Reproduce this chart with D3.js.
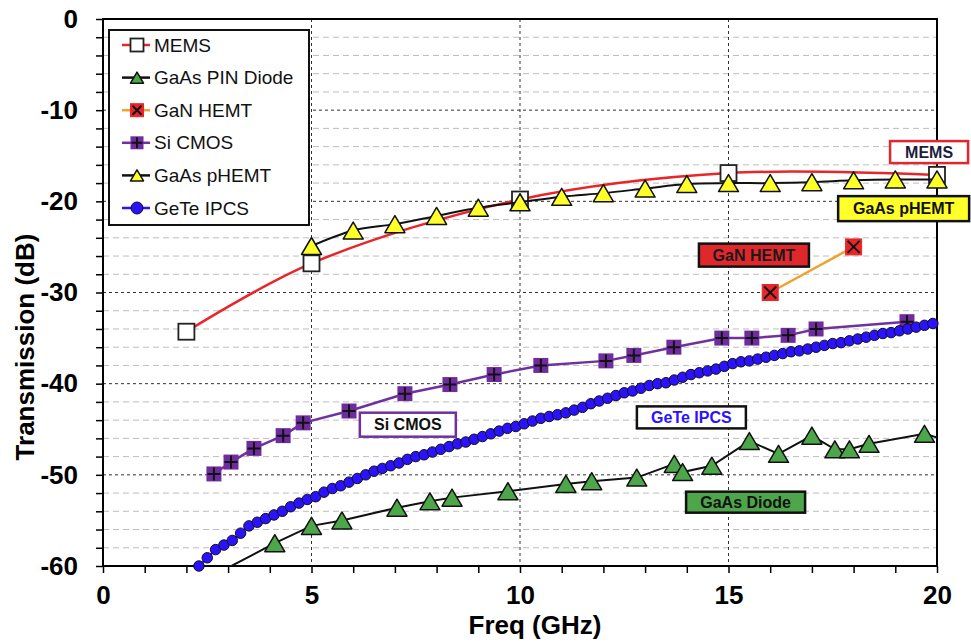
<!DOCTYPE html>
<html>
<head>
<meta charset="utf-8">
<script src="https://cdn.jsdelivr.net/npm/d3@7"></script>
<style>
  body { margin: 0; background: #fff; }
  svg { display: block; font-family: "Liberation Sans", Arial, sans-serif; }
</style>
</head>
<body>
<svg width="971" height="643"></svg>
<script>
// ---- data ----
var memsFreq = [2, 5, 10, 15, 20];
var memsDb = [-34.3, -26.8, -19.8, -16.9, -17.1];

var phemtFreq = [5, 6, 7, 8, 9, 10, 11, 12, 13, 14, 15, 16, 17, 18, 19, 20];
var phemtDb = [-24.9, -23.2, -22.5, -21.6, -20.7, -20.1, -19.5, -19.1, -18.6, -18.1, -18.0, -18.0, -17.9, -17.7, -17.6, -17.6];

var ganFreq = [16, 18];
var ganDb = [-30.0, -25.0];

var siFreq = [2.66, 3.07, 3.62, 4.32, 4.80, 5.90, 7.24, 8.32, 9.38, 10.5, 12.06, 12.73, 13.69, 14.84, 15.56, 16.43, 17.1, 19.28];
var siDb = [-49.9, -48.6, -47.1, -45.7, -44.3, -43.0, -41.1, -40.1, -39.0, -38.0, -37.5, -36.9, -36.0, -35.0, -35.0, -34.7, -34.0, -33.2];

// first and last points fall outside the axes (line enters/leaves the frame)
var pinFreq = [2.7, 4.12, 5.0, 5.73, 7.05, 7.84, 8.37, 9.71, 11.1, 11.72, 12.8, 13.7, 13.9, 14.6, 15.5, 16.2, 17.0, 17.55, 17.9, 18.37, 19.7, 20.3];
var pinDb = [-60.9, -57.5, -55.6, -55.0, -53.6, -52.9, -52.5, -51.8, -51.0, -50.7, -50.3, -48.8, -49.7, -49.0, -46.3, -47.7, -45.7, -47.2, -47.2, -46.6, -45.5, -46.3];

var geteFreq = [2.3, 2.5, 2.7, 2.9, 3.1, 3.3, 3.5, 3.7, 3.9, 4.1, 4.3, 4.5, 4.7, 4.9, 5.1, 5.3, 5.5, 5.7, 5.9,
  6.1, 6.3, 6.5, 6.7, 6.9, 7.1, 7.3, 7.5, 7.7, 7.9, 8.1, 8.3, 8.5, 8.7, 8.9, 9.1, 9.3, 9.5, 9.7, 9.9,
  10.1, 10.3, 10.5, 10.7, 10.9, 11.1, 11.3, 11.5, 11.7, 11.9, 12.1, 12.3, 12.5, 12.7, 12.9, 13.1, 13.3, 13.5, 13.7, 13.9,
  14.1, 14.3, 14.5, 14.7, 14.9, 15.1, 15.3, 15.5, 15.7, 15.9, 16.1, 16.3, 16.5, 16.7, 16.9, 17.1, 17.3, 17.5, 17.7, 17.9,
  18.1, 18.3, 18.5, 18.7, 18.9, 19.1, 19.3, 19.5, 19.7, 19.9];
var geteDb = [-60.0, -59.1, -58.2, -57.7, -57.2, -56.4, -55.6, -55.2, -54.8, -54.4, -54.0, -53.5, -53.1, -52.7, -52.4, -51.9, -51.5, -51.2, -50.8,
  -50.4, -50.0, -49.6, -49.3, -49.0, -48.7, -48.3, -48.0, -47.8, -47.5, -47.2, -46.9, -46.6, -46.4, -46.1, -45.8, -45.5, -45.2, -44.9, -44.7,
  -44.4, -44.1, -43.8, -43.6, -43.4, -43.2, -42.9, -42.6, -42.2, -41.9, -41.6, -41.3, -41.0, -40.8, -40.5, -40.2, -40.0, -39.9, -39.6, -39.3,
  -39.0, -38.8, -38.6, -38.4, -38.1, -37.8, -37.6, -37.5, -37.3, -37.1, -36.9, -36.7, -36.5, -36.4, -36.2, -36.0, -35.8, -35.6, -35.5, -35.3,
  -35.1, -34.9, -34.7, -34.5, -34.4, -34.2, -34.0, -33.8, -33.6, -33.4];

var xTicks = [0, 5, 10, 15, 20];
var yTicks = [0, -10, -20, -30, -40, -50, -60];

var legendNames = ["MEMS", "GaAs PIN Diode", "GaN HEMT", "Si CMOS", "GaAs pHEMT", "GeTe IPCS"];

// ---- layout ----
var svg = d3.select("svg"),
    plotL = 103, plotR = 937, plotT = 19, plotB = 566;

var x = d3.scaleLinear().domain([0, 20]).range([plotL, plotR]);
var y = d3.scaleLinear().domain([-60, 0]).range([plotB, plotT]);

function zip(fs, ds) { return fs.map(function(f, i) { return [f, ds[i]]; }); }
function inside(d) { return d[0] >= 0 && d[0] <= 20 && d[1] >= -60 && d[1] <= 0; }

svg.append("defs").append("clipPath").attr("id", "plot")
  .append("rect").attr("x", plotL).attr("y", plotT).attr("width", plotR - plotL).attr("height", plotB - plotT);

/* ===== GRID ===== */
var grid = svg.append("g");
grid.selectAll("line.h")
  .data(d3.range(-58, 0, 2))
  .enter().append("line")
    .attr("x1", plotL).attr("x2", plotR)
    .attr("y1", function(d) { return y(d); }).attr("y2", function(d) { return y(d); })
    .attr("stroke", function(d) { return d % 10 === 0 ? "#333" : "#bdbdbd"; })
    .attr("stroke-dasharray", function(d) { return d % 10 === 0 ? "3,3" : "6,4"; })
    .attr("stroke-width", 1);
grid.selectAll("line.v")
  .data(xTicks.slice(1, -1))
  .enter().append("line")
    .attr("y1", plotT).attr("y2", plotB)
    .attr("x1", function(d) { return x(d); }).attr("x2", function(d) { return x(d); })
    .attr("stroke", "#333").attr("stroke-dasharray", "3,3");

/* ===== AXES ===== */
var xAxis = svg.append("g")
    .attr("transform", "translate(0," + plotB + ")")
    .call(d3.axisBottom(x).tickValues(d3.range(0, 21, 1)).tickSize(7).tickPadding(13)
      .tickFormat(function(d) { return xTicks.indexOf(d) >= 0 ? d : ""; }));
var yAxis = svg.append("g")
    .attr("transform", "translate(" + plotL + ",0)")
    .call(d3.axisLeft(y).tickValues(d3.range(-60, 1, 2)).tickSize(7).tickPadding(18)
      .tickFormat(function(d) { return yTicks.indexOf(d) >= 0 ? d : ""; }));

[xAxis, yAxis].forEach(function(a) {
  a.select(".domain").remove();
  a.selectAll(".tick line").attr("stroke", "#000").attr("stroke-width", 1.5);
  a.selectAll(".tick text")
    .attr("fill", "#000")
    .attr("font-size", 26)
    .attr("font-weight", "bold")
    .attr("font-family", "'Liberation Sans', Arial, sans-serif");
});

// frame
svg.append("rect")
  .attr("x", plotL).attr("y", plotT).attr("width", plotR - plotL).attr("height", plotB - plotT)
  .attr("fill", "none").attr("stroke", "#000").attr("stroke-width", 2);

svg.append("text")
  .attr("x", 535).attr("y", 634)
  .attr("text-anchor", "middle")
  .attr("font-size", 26).attr("font-weight", "bold")
  .text("Freq (GHz)");

svg.append("text")
  .attr("transform", "translate(34,347) rotate(-90)")
  .attr("text-anchor", "middle")
  .attr("font-size", 26).attr("font-weight", "bold")
  .text("Transmission (dB)");

/* ===== MARKERS ===== */
function drawMarker(g, type, s) {
  var h = s / 2;
  if (type === "square") {
    g.append("rect").attr("x", -h).attr("y", -h).attr("width", s).attr("height", s)
      .attr("fill", "#fff").attr("stroke", "#222").attr("stroke-width", 1.8);
  } else if (type === "triGreen" || type === "triYellow") {
    g.append("path")
      .attr("d", "M0," + (-h * 0.85) + "L" + h + "," + (h * 0.85) + "L" + (-h) + "," + (h * 0.85) + "Z")
      .attr("fill", type === "triGreen" ? "#4ea64a" : "#ffff2a")
      .attr("stroke", "#111").attr("stroke-width", 1.5).attr("stroke-linejoin", "round");
  } else if (type === "squareX") {
    g.append("rect").attr("x", -h).attr("y", -h).attr("width", s).attr("height", s)
      .attr("fill", "#e8262a").attr("stroke", "#e8262a");
    g.append("path").attr("d", "M" + (-h + 2) + "," + (-h + 2) + "L" + (h - 2) + "," + (h - 2) +
        "M" + (h - 2) + "," + (-h + 2) + "L" + (-h + 2) + "," + (h - 2))
      .attr("stroke", "#111").attr("stroke-width", 2);
  } else if (type === "squarePlus") {
    g.append("rect").attr("x", -h).attr("y", -h).attr("width", s).attr("height", s)
      .attr("fill", "#6f2c9e");
    g.append("path").attr("d", "M0," + (-h + 1) + "V" + (h - 1) + "M" + (-h + 1) + ",0H" + (h - 1))
      .attr("stroke", "#111").attr("stroke-width", 2);
  } else if (type === "circle") {
    g.append("circle").attr("r", h)
      .attr("fill", "#2a12ff").attr("stroke", "#111").attr("stroke-width", 1);
  }
}

var series = [
  {name: "GaAs PIN Diode", pts: zip(pinFreq, pinDb), color: "#111", width: 2, marker: "triGreen", size: 20, curve: d3.curveLinear},
  {name: "GaN HEMT", pts: zip(ganFreq, ganDb), color: "#f0a22e", width: 2.5, marker: "squareX", size: 16, curve: d3.curveLinear},
  {name: "Si CMOS", pts: zip(siFreq, siDb), color: "#7030a0", width: 2.5, marker: "squarePlus", size: 15, curve: d3.curveLinear},
  {name: "GeTe IPCS", pts: zip(geteFreq, geteDb), color: "#2a12ff", width: 2, marker: "circle", size: 10.5, curve: d3.curveLinear},
  {name: "MEMS", pts: zip(memsFreq, memsDb), color: "#e8262a", width: 2.5, marker: "square", size: 16, curve: d3.curveCatmullRom},
  {name: "GaAs pHEMT", pts: zip(phemtFreq, phemtDb), color: "#111", width: 2, marker: "triYellow", size: 20, curve: d3.curveCatmullRom}
];

var line = d3.line().x(function(d) { return x(d[0]); }).y(function(d) { return y(d[1]); });

series.forEach(function(s) {
  var g = svg.append("g");
  g.append("path")
    .attr("clip-path", "url(#plot)")
    .attr("d", line.curve(s.curve)(s.pts))
    .attr("fill", "none").attr("stroke", s.color).attr("stroke-width", s.width);
  g.selectAll("g.m")
    .data(s.pts.filter(inside))
    .enter().append("g")
      .attr("transform", function(d) { return "translate(" + x(d[0]) + "," + y(d[1]) + ")"; })
      .each(function() { drawMarker(d3.select(this), s.marker, s.size); });
});

/* ===== LEGEND ===== */
var legend = svg.append("g");
legend.append("rect")
  .attr("x", 109).attr("y", 30).attr("width", 200).attr("height", 195)
  .attr("fill", "#fff").attr("stroke", "#111").attr("stroke-width", 2);

var byName = {};
series.forEach(function(s) { byName[s.name] = s; });

var rows = legend.selectAll("g.row")
  .data(legendNames)
  .enter().append("g")
    .attr("transform", function(d, i) { return "translate(137," + (45 + i * 32.6) + ")"; });

rows.append("line")
  .attr("x1", -15).attr("x2", 13)
  .attr("stroke", function(d) { return byName[d].color; })
  .attr("stroke-width", 2.5);
rows.each(function(d) {
  var s = byName[d];
  drawMarker(d3.select(this), s.marker, s.marker === "circle" ? 12 : 13);
});
rows.append("text")
  .attr("x", 17).attr("dy", "0.35em")
  .attr("font-size", 19)
  .attr("fill", "#111")
  .text(function(d) { return d; });

/* ===== CALLOUT LABELS ===== */
var callouts = [
  {text: "MEMS", f: 19.81, db: -14.6, w: 78, h: 22, fill: "#fff", stroke: "#e0282c", color: "#1c1c3c"},
  {text: "GaAs pHEMT", f: 19.2, db: -20.8, w: 131, h: 25, fill: "#ffff2a", stroke: "#111", color: "#111"},
  {text: "GaN HEMT", f: 15.61, db: -25.9, w: 110, h: 23, fill: "#e0282c", stroke: "#111", color: "#1a1a1a"},
  {text: "Si CMOS", f: 7.31, db: -44.5, w: 96, h: 24, fill: "#fff", stroke: "#7030a0", color: "#111"},
  {text: "GeTe IPCS", f: 14.11, db: -43.7, w: 109, h: 22, fill: "#fff", stroke: "#111", color: "#2a12ff"},
  {text: "GaAs Diode", f: 15.41, db: -53.0, w: 119, h: 21, fill: "#4ea64a", stroke: "#111", color: "#111"}
];

var co = svg.selectAll("g.callout")
  .data(callouts)
  .enter().append("g")
    .attr("transform", function(d) { return "translate(" + x(d.f) + "," + y(d.db) + ")"; });
co.append("rect")
  .attr("x", function(d) { return -d.w / 2; }).attr("y", function(d) { return -d.h / 2; })
  .attr("width", function(d) { return d.w; }).attr("height", function(d) { return d.h; })
  .attr("fill", function(d) { return d.fill; })
  .attr("stroke", function(d) { return d.stroke; }).attr("stroke-width", 2.5);
co.append("text")
  .attr("text-anchor", "middle").attr("dy", "0.36em")
  .attr("font-size", 16).attr("font-weight", "bold")
  .attr("fill", function(d) { return d.color; })
  .text(function(d) { return d.text; });
</script>
</body>
</html>
